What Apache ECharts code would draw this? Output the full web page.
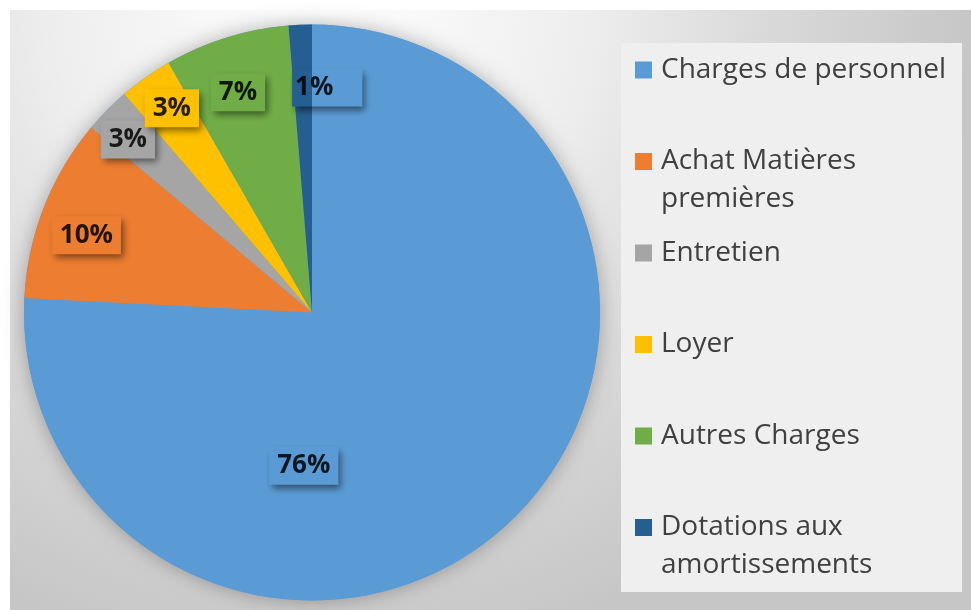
<!DOCTYPE html>
<html>
<head>
<meta charset="utf-8">
<script src="https://cdn.jsdelivr.net/npm/echarts@6/dist/echarts.min.js"></script>
<style>
  html, body { margin: 0; padding: 0; background: #ffffff; }
  #chart { width: 971px; height: 610px; }
</style>
</head>
<body>
<div id="chart"></div>
<script>
// Slices, clockwise from 12 o'clock
const categories = [
  'Charges de personnel',
  'Achat Matières premières',
  'Entretien',
  'Loyer',
  'Autres Charges',
  'Dotations aux amortissements'
];
const legendLabels = [
  'Charges de personnel',
  'Achat Matières\npremières',
  'Entretien',
  'Loyer',
  'Autres Charges',
  'Dotations aux\namortissements'
];
const shares = [75.8, 10.3, 2.6, 3.0, 7.0, 1.3];
const colors = ['#5b9bd5', '#ed7d31', '#a5a5a5', '#ffc000', '#70ad47', '#255e91'];

const chart = echarts.init(document.getElementById('chart'));

const CENTER = [312, 312.5];
const R = 288;
const FONT = "'Open Sans', 'Noto Sans', sans-serif";
const LINE = 38;

// Excel "best fit" label placement: small nudges from the radial position
const labelNudges = [[-173, -20], [-3, 10], [-14, -5], [-2, -9], [-3, 8], [25, 14]];

const total = shares.reduce((a, b) => a + b, 0);

// One legend per row so the first line of every entry sits on a fixed pitch.
// Two-line entries get an empty leading line so the marker lines up with line one.
const legends = categories.map((name, i) => {
  const twoLine = legendLabels[i].indexOf('\n') >= 0;
  const text = twoLine ? '\u00a0\n' + legendLabels[i] : legendLabels[i];
  return {
    orient: 'vertical',
    left: 635,
    top: 70 + 91.5 * i - (twoLine ? LINE * 1.5 : LINE / 2),
    padding: 0,
    data: [name],
    icon: 'rect',
    itemWidth: 17,
    itemHeight: 17,
    selectedMode: false,
    formatter: () => text,
    textStyle: {
      fontFamily: FONT,
      fontSize: 28,
      color: '#404040',
      lineHeight: LINE,
      padding: [0, 0, 0, 4]
    }
  };
});

const labelData = categories.map((name, i) => {
  let bg = colors[i];
  let pad = [6, 8, 6, 8];
  if (i === 5) {
    // the 1% box is wider than its text and straddles two slices
    bg = new echarts.graphic.LinearGradient(0, 0, 1, 0, [
      { offset: 0, color: colors[5] },
      { offset: 0.28, color: colors[5] },
      { offset: 0.28, color: colors[0] },
      { offset: 1, color: colors[0] }
    ]);
    pad = [6, 29, 6, 3];
  }
  return {
    name: name,
    value: shares[i],
    label: { backgroundColor: bg, padding: pad, offset: labelNudges[i] }
  };
});

const option = {
  animation: false,
  graphic: [
    {
      type: 'rect',
      left: 10,
      top: 10,
      z: -10,
      shape: { width: 961, height: 600 },
      style: {
        fill: new echarts.graphic.RadialGradient(0.32, 0, 1.1, [
          { offset: 0, color: '#ffffff' },
          { offset: 0.4, color: '#eeeeee' },
          { offset: 0.7, color: '#d8d8d8' },
          { offset: 1, color: '#c6c6c6' }
        ])
      }
    },
    {
      type: 'rect',
      left: 621,
      top: 43,
      z: -9,
      shape: { width: 341, height: 549 },
      style: { fill: '#efefef' }
    }
  ],
  legend: legends,
  series: [
    {
      name: 'Charges',
      type: 'pie',
      z: 2,
      center: CENTER,
      radius: R,
      startAngle: 90,
      clockwise: true,
      silent: true,
      label: { show: false },
      labelLine: { show: false },
      data: categories.map((name, i) => ({
        name: name,
        value: shares[i],
        itemStyle: { color: colors[i] }
      }))
    },
    {
      name: 'Étiquettes',
      type: 'pie',
      z: 3,
      center: CENTER,
      radius: [R * 0.64, R],
      startAngle: 90,
      clockwise: true,
      silent: true,
      avoidLabelOverlap: false,
      legendHoverLink: false,
      percentPrecision: 0,
      itemStyle: { color: 'rgba(0,0,0,0)' },
      labelLine: { show: false },
      labelLayout: { hideOverlap: false },
      label: {
        show: true,
        position: 'inside',
        formatter: '{d}%',
        fontFamily: FONT,
        fontSize: 26,
        fontWeight: 'bold',
        lineHeight: 26,
        color: 'rgba(0,0,0,0.85)',
        shadowBlur: 7,
        shadowOffsetX: 3,
        shadowOffsetY: 4,
        shadowColor: 'rgba(0,0,0,0.5)'
      },
      data: labelData
    },
    {
      name: 'Fond',
      type: 'pie',
      z: 1,
      center: CENTER,
      radius: R,
      silent: true,
      label: { show: false },
      labelLine: { show: false },
      itemStyle: {
        color: '#5b9bd5',
        shadowBlur: 20,
        shadowColor: 'rgba(0,0,0,0.3)'
      },
      data: [{ name: 'total', value: total }]
    }
  ]
};

chart.setOption(option);
</script>
</body>
</html>
